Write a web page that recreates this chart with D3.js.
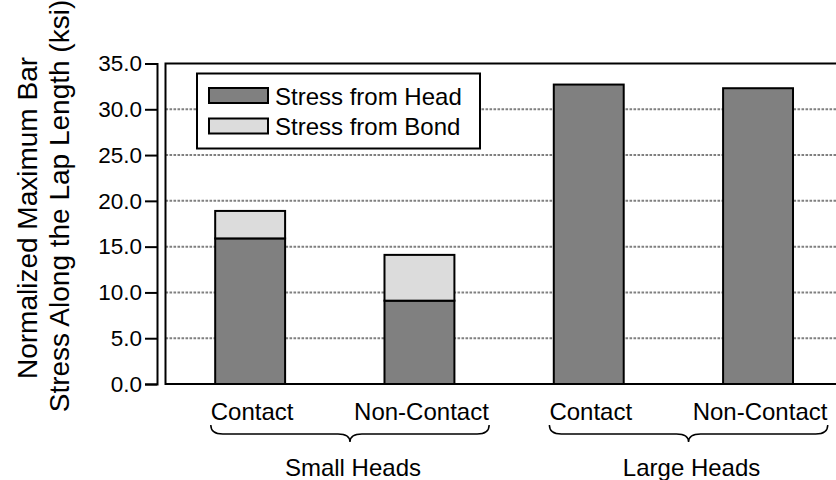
<!DOCTYPE html>
<html>
<head>
<meta charset="utf-8">
<script src="https://cdn.jsdelivr.net/npm/d3@7/dist/d3.min.js"></script>
<style>
  html, body { margin: 0; padding: 0; background: #fff; }
  svg { display: block; font-family: "Liberation Sans", Arial, Helvetica, sans-serif; }
</style>
</head>
<body>
<svg id="chart" width="836" height="480"></svg>
<script>
// Bar stress along the lap length, split into head and bond contributions
const groups = ["Small Heads", "Large Heads"];
const categories = ["Contact", "Non-Contact", "Contact", "Non-Contact"];
const categoryGroup = [0, 0, 1, 1];
const headStress = [15.9, 9.1, 32.7, 32.3];
const bondStress = [3.0, 5.0, 0, 0];
const seriesNames = ["Stress from Head", "Stress from Bond"];
const seriesColors = ["#808080", "#dcdcdc"];
const yTicks = [0, 5, 10, 15, 20, 25, 30, 35];

const svg = d3.select("#chart");
const W = 836, H = 480;
const plot = { left: 165.5, right: 840, top: 63.5, bottom: 384 };

const rows = categories.map((c, i) => ({ idx: i, head: headStress[i], bond: bondStress[i] }));
const stacked = d3.stack().keys(["head", "bond"])(rows);

const x = d3.scaleBand()
  .domain(d3.range(categories.length))
  .range([plot.left, plot.left + 4 * 169.3])
  .paddingInner(0.587)
  .paddingOuter(0.2935);

const y = d3.scaleLinear().domain([0, 35]).range([plot.bottom, plot.top]);

// dotted grid
svg.append("g")
  .selectAll("line")
  .data(yTicks.filter(t => t > 0 && t < 35))
  .join("line")
  .attr("x1", plot.left).attr("x2", W)
  .attr("y1", d => y(d)).attr("y2", d => y(d))
  .attr("stroke", "#808080")
  .attr("stroke-width", 2)
  .attr("stroke-dasharray", "2.6,1.4");

// stacked bars
svg.append("g")
  .selectAll("g")
  .data(stacked)
  .join("g")
  .attr("fill", (d, i) => seriesColors[i])
  .selectAll("rect")
  .data(d => d.filter(s => s[1] - s[0] > 0))
  .join("rect")
  .attr("x", d => x(d.data.idx))
  .attr("width", x.bandwidth())
  .attr("y", d => y(d[1]))
  .attr("height", d => y(d[0]) - y(d[1]))
  .attr("stroke", "#000")
  .attr("stroke-width", 2);

// plot frame
svg.append("rect")
  .attr("x", plot.left).attr("y", plot.top)
  .attr("width", plot.right - plot.left).attr("height", plot.bottom - plot.top)
  .attr("fill", "none").attr("stroke", "#000").attr("stroke-width", 2);

// y axis, offset from the frame
const yAxis = svg.append("g")
  .attr("transform", "translate(157,0)")
  .call(d3.axisLeft(y).tickValues(yTicks).tickSize(12).tickSizeOuter(12).tickPadding(3).tickFormat(d3.format(".1f")));
yAxis.select(".domain").attr("stroke", "#000").attr("stroke-width", 2);
yAxis.selectAll(".tick line").attr("stroke", "#000").attr("stroke-width", 2);
yAxis.selectAll(".tick text")
  .attr("fill", "#000")
  .style("font-size", "22.5px")
  .style("font-family", "'Liberation Sans', Arial, sans-serif");

// y axis title, two lines
const titleLines = ["Normalized Maximum Bar", "Stress Along the Lap Length (ksi)"];
const titleCenters = [218, 206];
svg.append("g")
  .selectAll("text")
  .data(titleLines)
  .join("text")
  .attr("transform", (d, i) => `translate(${37 + i * 32},${titleCenters[i]}) rotate(-90)`)
  .attr("text-anchor", "middle")
  .style("font-size", "28px")
  .text(d => d);

// category labels
const catLabels = svg.append("g")
  .selectAll("text")
  .data(categories)
  .join("text")
  .attr("x", (d, i) => x(i) + x.bandwidth() / 2 + 2)
  .attr("y", 420)
  .attr("text-anchor", "middle")
  .style("font-size", "24px")
  .text(d => d);

// braces spanning each group's labels, with the group name underneath
function bracePath(x1, x2, yTop, yMid, yTip) {
  const xm = (x1 + x2) / 2, r = 12;
  return `M${x1},${yTop} Q${x1},${yMid} ${x1 + r},${yMid} L${xm - r},${yMid} Q${xm},${yMid} ${xm},${yTip}` +
         ` Q${xm},${yMid} ${xm + r},${yMid} L${x2 - r},${yMid} Q${x2},${yMid} ${x2},${yTop}`;
}
const boxes = catLabels.nodes().map(n => n.getBBox());
groups.forEach((g, gi) => {
  const members = boxes.filter((b, i) => categoryGroup[i] === gi);
  const x1 = d3.min(members, b => b.x);
  const x2 = d3.max(members, b => b.x + b.width);
  svg.append("path")
    .attr("d", bracePath(x1, x2, 425, 434, 442))
    .attr("fill", "none").attr("stroke", "#000").attr("stroke-width", 1.5);
  svg.append("text")
    .attr("x", (x1 + x2) / 2 + 3).attr("y", 476)
    .attr("text-anchor", "middle")
    .style("font-size", "24px")
    .text(g);
});

// legend
const legend = svg.append("g");
legend.append("rect")
  .attr("x", 197).attr("y", 73.5).attr("width", 283).attr("height", 75)
  .attr("fill", "#fff").attr("stroke", "#000").attr("stroke-width", 2);
const items = legend.selectAll("g.item")
  .data(seriesNames)
  .join("g")
  .attr("class", "item")
  .attr("transform", (d, i) => `translate(209,${88 + i * 30.5})`);
items.append("rect")
  .attr("width", 59).attr("height", 15)
  .attr("fill", (d, i) => seriesColors[i])
  .attr("stroke", "#000").attr("stroke-width", 2);
items.append("text")
  .attr("x", 66).attr("y", 16.5)
  .style("font-size", "24px")
  .text(d => d);
</script>
</body>
</html>
